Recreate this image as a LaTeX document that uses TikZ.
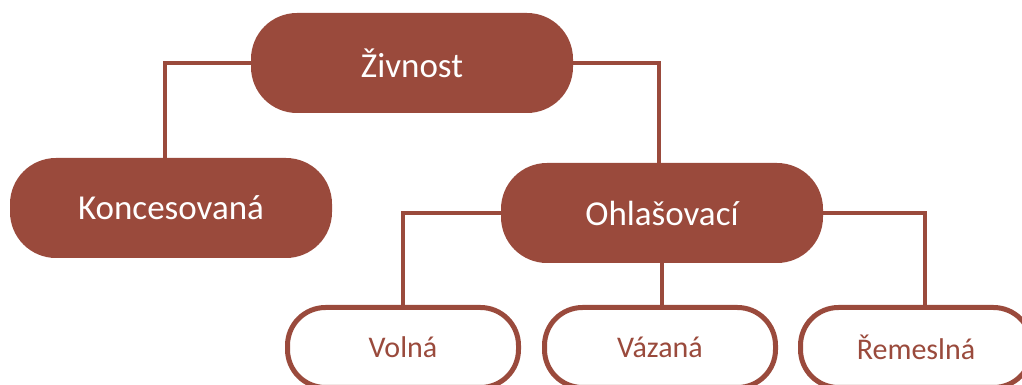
\documentclass[tikz,border=0pt]{standalone}
\usepackage{fontspec}
\setmainfont{Carlito}
\usetikzlibrary{positioning}
\definecolor{rust}{HTML}{9A4A3C}

\begin{document}
\begin{tikzpicture}[
      x=1pt, y=1pt,
      mainbox/.style={fill=rust, text=white, minimum width=322pt, minimum height=100pt, rounded corners=46pt, font=\fontsize{35}{42}\selectfont},
      subbox/.style={draw=rust, line width=5pt, fill=white, text=rust, minimum width=231pt, minimum height=80pt, rounded corners=38pt, font=\fontsize{30}{36}\selectfont},
      link/.style={draw=rust, line width=4pt}
    ]

      % Page size
      \clip (0, 0) rectangle (1022, 385);

      % Top level and second level - placed at coordinates
      \node[mainbox] (zivnost) at (412, 322) {Živnost};
      \node[mainbox] (konces) at (171, 177) {Koncesovaná};
      \node[mainbox] (ohlas) at (662, 172) {Ohlašovací};

      % Bottom row - relative positioning
      \node[subbox] (volna) at (403, 37.5) {Volná};
      \node[subbox, right=21pt of volna] (vazana) {Vázaná};
      \node[subbox, right=20pt of vazana] (remesl) {Řemeslná};

      % Connectors
      \draw[link] (zivnost.west) -| ([xshift=-6pt]konces.north);
      \draw[link] (zivnost.east) -| ([xshift=-3pt]ohlas.north);
      \draw[link] (ohlas.west) -| (volna.north);
      \draw[link] (ohlas.south) -- (ohlas.south |- vazana.north);
      \draw[link] (ohlas.east) -| ([xshift=9pt]remesl.north);

    \end{tikzpicture}
\end{document}
